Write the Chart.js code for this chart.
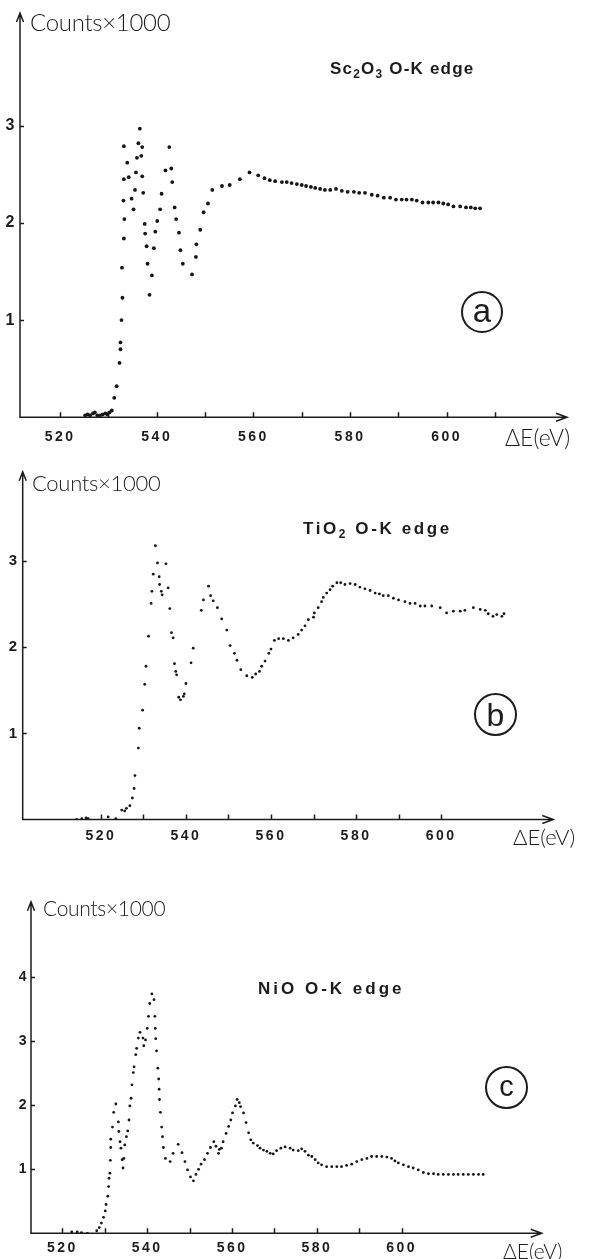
<!DOCTYPE html>
<html>
<head>
<meta charset="utf-8">
<script src="https://cdn.jsdelivr.net/npm/chart.js@4.4.1/dist/chart.umd.min.js"></script>
<style>
  body { margin: 0; background: #fff; }
  #page { position: relative; width: 595px; height: 1259px; overflow: hidden; background: #fff; }
  canvas { position: absolute; left: 0; }
  .t { position: absolute; white-space: nowrap; line-height: 1; transform: translateY(-50%); color: #1c1c1c; }
  .axl { font-family: Lato, 'Open Sans', sans-serif; font-weight: 300; }
  .ttl { font-family: 'Liberation Sans', Arial, sans-serif; font-weight: bold; }
  .ttl sub { font-size: 0.7em; vertical-align: -0.35em; line-height: 0; }
  .circ { position: absolute; border: 2.4px solid #1c1c1c; border-radius: 50%; box-sizing: border-box;
          display: flex; align-items: center; justify-content: center;
          font-family: 'Liberation Sans', Arial, sans-serif; color: #1c1c1c; line-height: 1; }
</style>
</head>
<body>
<div id="page">
  <canvas id="chartSc2O3" width="595" height="450" style="top:0"></canvas>
  <canvas id="chartTiO2" width="595" height="410" style="top:450px"></canvas>
  <canvas id="chartNiO" width="595" height="399" style="top:860px"></canvas>

  <div class="t axl" style="left:30px;top:22px;font-size:24px;letter-spacing:-0.3px">Counts×1000</div>
  <div class="t ttl" style="left:330px;top:68px;font-size:17px;letter-spacing:1.2px">Sc<sub>2</sub>O<sub>3</sub> O-K edge</div>
  <div class="circ" style="left:461px;top:291px;width:42px;height:42px;font-size:33px;padding-bottom:3px">a</div>
  <div class="t axl" style="left:505px;top:437px;font-size:23px">ΔE(eV)</div>

  <div class="t axl" style="left:32px;top:483px;font-size:22px;letter-spacing:-0.3px">Counts×1000</div>
  <div class="t ttl" style="left:303px;top:528px;font-size:17px;letter-spacing:2.6px">TiO<sub>2</sub> O-K edge</div>
  <div class="circ" style="left:474px;top:693px;width:43px;height:43px;font-size:32px">b</div>
  <div class="t axl" style="left:513px;top:837px;font-size:22px">ΔE(eV)</div>

  <div class="t axl" style="left:43px;top:907px;font-size:21px;letter-spacing:-0.3px">Counts×1000</div>
  <div class="t ttl" style="left:258px;top:988px;font-size:17px;letter-spacing:3px">NiO O-K edge</div>
  <div class="circ" style="left:485px;top:1066px;width:43px;height:43px;font-size:29px;padding-bottom:3px">c</div>
  <div class="t axl" style="left:503px;top:1250px;font-size:21px">ΔE(eV)</div>
</div>
<script>
// energy loss (eV) and counts (x1000)

// (a) Sc2O3
const sc2o3E = [525.2, 525.7, 526.2, 526.8, 527.2, 527.7, 528.3, 528.8, 529.4, 529.8, 530.2, 530.7,
  531.2, 531.7, 532.3, 532.5, 532.5, 532.7, 532.9, 532.8, 533.2, 533.3,
  533.1, 533.2, 533.2, 533.9, 534.2, 534.8, 535.2, 535.5, 535.7, 535.9,
  536.2, 536.5, 536.8, 537.0, 537.0, 537.2, 537.5, 537.6, 537.9, 538.1,
  539.0, 538.5, 539.4, 539.7, 540.1, 540.7, 541.0, 541.8, 542.6, 543.0,
  543.2, 543.7, 544.0, 544.6, 544.9, 545.4, 547.3, 548.1, 548.2, 549.0,
  549.7, 550.6, 551.5, 553.5, 555.1, 557.2, 559.2, 561.0, 562.3, 563.4, 564.5,
  565.9, 566.9, 567.9, 569.0, 570.0, 570.9, 571.9, 572.8, 573.8, 574.8,
  575.9, 577.1, 578.3, 579.5, 580.8, 581.9, 583.1, 584.5, 585.7, 587.0,
  588.3, 589.5, 590.7, 591.7, 592.8, 593.8, 595.0, 596.2, 597.2, 598.3,
  599.3, 600.3, 601.4, 602.8, 604.0, 605.0, 605.9, 606.9];
const sc2o3Counts = [0.02, 0.03, 0.02, 0.04, 0.05, 0.02, 0.02, 0.03, 0.04, 0.03, 0.05, 0.07,
  0.20, 0.32, 0.56, 0.70, 0.77, 1.00, 1.23, 1.54, 1.84, 2.04,
  2.23, 2.45, 2.79, 2.62, 2.47, 2.25, 2.14, 2.34, 2.52, 2.67,
  2.82, 2.97, 2.69, 2.78, 2.48, 2.31, 1.99, 1.89, 1.76, 1.58,
  1.46, 1.26, 1.74, 1.91, 2.02, 2.14, 2.30, 2.54, 2.78, 2.56,
  2.42, 2.16, 2.04, 1.90, 1.72, 1.58, 1.47, 1.65, 1.78, 1.93,
  2.11, 2.20, 2.34, 2.38, 2.39, 2.45, 2.52, 2.49, 2.46, 2.44, 2.43,
  2.42, 2.42, 2.41, 2.40, 2.39, 2.38, 2.37, 2.36, 2.35, 2.34,
  2.34, 2.35, 2.33, 2.32, 2.32, 2.31, 2.31, 2.29, 2.28, 2.26,
  2.26, 2.24, 2.24, 2.24, 2.24, 2.23, 2.21, 2.21, 2.21, 2.21,
  2.20, 2.19, 2.17, 2.17, 2.16, 2.16, 2.15, 2.15];

// (b) TiO2
const tio2E = [514.3, 515.5, 516.5, 517.0, 521.7, 523.5, 524.9, 525.6, 526.0, 526.8,
  527.4, 527.8, 528.0, 528.8, 529.0, 529.8, 530.3, 530.6, 531.2, 531.8,
  532.0, 532.3, 532.8, 533.3, 533.7, 533.8, 534.2, 534.4, 535.3, 535.8,
  536.2, 536.6, 537.0, 537.3, 537.6, 537.8, 538.3, 538.7, 539.4, 539.6,
  540.0, 541.2, 541.7, 543.6, 544.1, 545.3, 545.8, 546.4, 547.4, 548.4,
  549.6, 550.4, 551.4, 552.0, 552.9, 554.3, 555.6, 556.4, 557.3, 557.8,
  558.6, 559.5, 560.0, 560.8, 561.8,
  562.9, 564.1, 565.2, 566.4, 567.2, 568.0, 568.8, 570.0, 570.2, 571.1,
  571.9, 572.3, 573.1, 573.9, 574.5, 575.5, 576.4, 577.4, 578.6, 579.8,
  580.9, 582.1, 583.3, 584.5, 585.5, 586.4, 587.6, 588.8, 590.0, 591.5,
  592.7, 593.9, 595.1, 596.2, 597.8, 599.8, 601.3, 602.9, 604.5, 605.6,
  607.6, 609.2, 610.4, 611.1, 612.2, 613.1, 614.3, 614.8];
const tio2Counts = [0.00, 0.01, 0.02, 0.01, 0.03, 0.01, 0.11, 0.10, 0.13, 0.16,
  0.25, 0.36, 0.51, 0.83, 1.06, 1.27, 1.57, 1.78, 2.13, 2.51,
  2.65, 2.85, 3.18, 2.98, 2.82, 2.73, 2.65, 2.61, 2.97, 2.69,
  2.45, 2.17, 2.11, 1.81, 1.72, 1.68, 1.42, 1.39, 1.43, 1.46,
  1.58, 1.82, 1.99, 2.43, 2.55, 2.71, 2.60, 2.54, 2.46, 2.33,
  2.20, 2.02, 1.93, 1.85, 1.74, 1.67, 1.65, 1.69, 1.72, 1.78,
  1.84, 1.93, 1.98, 2.08, 2.10,
  2.10, 2.08, 2.11, 2.15, 2.20, 2.25, 2.32, 2.35, 2.40, 2.46,
  2.53, 2.58, 2.63, 2.67, 2.71, 2.75, 2.75, 2.73, 2.74, 2.73,
  2.70, 2.68, 2.66, 2.63, 2.62, 2.60, 2.60, 2.57, 2.55, 2.53,
  2.51, 2.51, 2.48, 2.48, 2.48, 2.46, 2.40, 2.42, 2.42, 2.43,
  2.46, 2.44, 2.43, 2.39, 2.36, 2.38, 2.36, 2.39];

// (c) NiO
const nioE = [522.2, 523.5, 524.5, 525.9, 528.1, 528.7, 529.2, 529.7, 530.1, 530.3,
  530.7, 530.9, 531.0, 531.2, 531.3, 531.4, 531.4, 531.8, 532.1, 532.6,
  533.2, 533.3, 533.6, 533.8, 534.1, 534.3, 534.5, 534.7, 535.1, 535.4,
  535.7, 535.9, 536.2, 536.4, 536.7, 536.9, 537.3, 537.5, 537.9, 538.3,
  539.0, 539.2, 539.6, 540.0, 540.3, 540.6, 541.1, 541.6, 541.8, 541.9,
  542.0, 542.2, 542.5, 542.7, 542.8, 542.9, 543.1, 543.4, 543.6, 543.8,
  544.3, 545.4, 546.1, 547.3, 548.2, 548.9, 549.5, 550.2, 550.9, 551.5,
  552.1, 552.7, 553.5, 554.2, 554.9, 555.7, 556.2, 556.8, 557.0, 557.5,
  557.9, 558.6, 559.2, 559.7, 560.1, 560.8, 561.2, 561.7, 562.0, 562.7,
  563.3, 563.9, 564.4, 565.0, 566.0, 566.6, 567.4, 568.2, 569.0, 569.7,
  570.5, 571.5, 572.5, 573.7, 574.4, 575.6,
  576.4, 577.2, 578.0, 578.8, 579.6, 580.3, 581.1, 582.3, 583.5, 584.7,
  585.8, 587.0, 588.2, 589.4, 590.6, 591.8, 592.9, 594.1, 595.3, 596.5,
  597.6, 598.4, 599.2, 600.4, 601.6, 602.7, 603.9, 605.1, 606.3, 607.5,
  608.6, 609.8, 611.0, 612.2, 613.3, 614.5, 615.7, 616.9, 618.1, 619.2];
const nioCounts = [0.02, 0.02, 0.01, 0.00, 0.04, 0.09, 0.16, 0.25, 0.35, 0.45,
  0.58, 0.73, 0.86, 0.94, 1.14, 1.34, 1.47, 1.66, 1.89, 2.02,
  1.74, 1.59, 1.43, 1.33, 1.15, 1.02, 1.17, 1.38, 1.51, 1.60,
  1.77, 1.99, 2.11, 2.32, 2.51, 2.60, 2.79, 2.89, 3.05, 3.14,
  3.05, 2.93, 3.02, 3.20, 3.39, 3.59, 3.74, 3.65, 3.39, 3.20,
  3.04, 2.85, 2.58, 2.41, 2.25, 2.09, 1.89, 1.66, 1.51, 1.34,
  1.17, 1.12, 1.25, 1.39, 1.26, 1.12, 0.99, 0.88, 0.82, 0.92,
  1.00, 1.08, 1.15, 1.25, 1.34, 1.43, 1.36, 1.25, 1.31, 1.33,
  1.43, 1.56, 1.67, 1.77, 1.88, 1.99, 2.09, 2.04, 1.98, 1.88,
  1.73, 1.57, 1.46, 1.41, 1.37, 1.33, 1.30, 1.28, 1.25, 1.24,
  1.29, 1.33, 1.35, 1.33, 1.30, 1.29,
  1.32, 1.28, 1.22, 1.20, 1.15, 1.10, 1.07, 1.04, 1.04, 1.04,
  1.04, 1.06, 1.08, 1.12, 1.15, 1.17, 1.20, 1.20, 1.20, 1.19,
  1.17, 1.13, 1.10, 1.07, 1.04, 1.02, 0.99, 0.95, 0.93, 0.93,
  0.92, 0.92, 0.92, 0.92, 0.92, 0.92, 0.92, 0.92, 0.92, 0.92];

// tick positions (labels only on every 20 eV)
const sc2o3ETicks = [520, 530, 540, 550, 560, 570, 580, 590, 600, 610];
const tio2ETicks = [520, 530, 540, 550, 560, 570, 580, 590, 600];
const nioETicks = [520, 530, 540, 550, 560, 570, 580, 590, 600];
const sc2o3CountTicks = [1, 2, 3];
const tio2CountTicks = [1, 2, 3];
const nioCountTicks = [1, 2, 3, 4];

// hand drawn look: axes with arrow heads, ticks pointing inwards
const axisArrows = {
    id: 'axisArrows',
    beforeDraw(chart) {
        chart.ctx.letterSpacing = '2.5px';
    },
    afterDraw(chart) {
        const ctx = chart.ctx;
        const a = chart.chartArea;
        const x = chart.scales.x;
        const y = chart.scales.y;
        ctx.save();
        ctx.letterSpacing = '0px';
        ctx.strokeStyle = '#1c1c1c';
        ctx.lineWidth = 1.5;
        ctx.beginPath();
        ctx.moveTo(a.left, a.top);
        ctx.lineTo(a.left, a.bottom);
        ctx.lineTo(a.right, a.bottom);
        x.ticks.forEach(t => {
            const px = Math.round(x.getPixelForValue(t.value)) + 0.5;
            ctx.moveTo(px, a.bottom);
            ctx.lineTo(px, a.bottom - 5);
        });
        y.ticks.forEach(t => {
            const py = Math.round(y.getPixelForValue(t.value)) + 0.5;
            ctx.moveTo(a.left, py);
            ctx.lineTo(a.left + 4, py);
        });
        ctx.moveTo(a.left - 3.5, a.top + 9);
        ctx.lineTo(a.left, a.top);
        ctx.lineTo(a.left + 3.5, a.top + 9);
        ctx.moveTo(a.right - 11, a.bottom - 4);
        ctx.lineTo(a.right, a.bottom);
        ctx.lineTo(a.right - 11, a.bottom + 4);
        ctx.stroke();
        ctx.restore();
    }
};

// the axis boxes get fixed sizes so the plot area lands where the figure has it
function makeChart(id, energies, counts, o) {
    const ctx = document.getElementById(id).getContext('2d');
    return new Chart(ctx, {
        type: 'scatter',
        data: {
            datasets: [{
                data: energies.map((e, i) => ({ x: e, y: counts[i] })),
                pointRadius: o.dot,
                pointBackgroundColor: '#161616',
                pointBorderWidth: 0,
                showLine: false
            }]
        },
        options: {
            responsive: false,
            animation: false,
            devicePixelRatio: 1,
            layout: { padding: { left: 0, bottom: 0, top: o.top, right: o.right } },
            plugins: { legend: { display: false }, tooltip: { enabled: false } },
            scales: {
                x: {
                    type: 'linear',
                    min: o.xMin,
                    max: o.xMax,
                    afterBuildTicks: s => { s.ticks = o.xTicks.map(v => ({ value: v })); },
                    afterFit: s => { s.height = o.xBox; },
                    grid: { display: false, drawTicks: false },
                    border: { display: false },
                    ticks: {
                        autoSkip: false,
                        maxRotation: 0,
                        padding: o.xPad,
                        color: '#1c1c1c',
                        font: { family: 'Liberation Sans', weight: 'bold', size: o.xFont },
                        callback: v => (v % 20 === 0 ? String(v) : '')
                    }
                },
                y: {
                    type: 'linear',
                    min: 0,
                    max: o.yMax,
                    afterBuildTicks: s => { s.ticks = o.yTicks.map(v => ({ value: v })); },
                    afterFit: s => { s.width = o.yBox; },
                    grid: { display: false, drawTicks: false },
                    border: { display: false },
                    ticks: {
                        padding: o.yPad,
                        color: '#1c1c1c',
                        font: { family: 'Liberation Sans', weight: 'bold', size: o.yFont },
                        callback: v => String(v)
                    }
                }
            }
        },
        plugins: [axisArrows]
    });
}

const chartA = makeChart('chartSc2O3', sc2o3E, sc2o3Counts, {
    yBox: 20, right: 28, top: 13, xBox: 32.7,
    xMin: 511.7, xMax: 624.9, yMax: 4.16,
    xTicks: sc2o3ETicks, yTicks: sc2o3CountTicks,
    xPad: 11, yPad: 3, xFont: 14, yFont: 16, dot: 1.9
});

const chartB = makeChart('chartTiO2', tio2E, tio2Counts, {
    yBox: 22.7, right: 41.7, top: 21.7, xBox: 40.5,
    xMin: 501.6, xMax: 626.4, yMax: 4.04,
    xTicks: tio2ETicks, yTicks: tio2CountTicks,
    xPad: 8, yPad: 3, xFont: 14, yFont: 15, dot: 1.4
});

const chartC = makeChart('chartNiO', nioE, nioCounts, {
    yBox: 31, right: 53.3, top: 41.7, xBox: 25.7,
    xMin: 512.6, xMax: 633.0, yMax: 5.18,
    xTicks: nioETicks, yTicks: nioCountTicks,
    xPad: 6, yPad: 2, xFont: 14, yFont: 14, dot: 1.4
});
</script>
</body>
</html>
